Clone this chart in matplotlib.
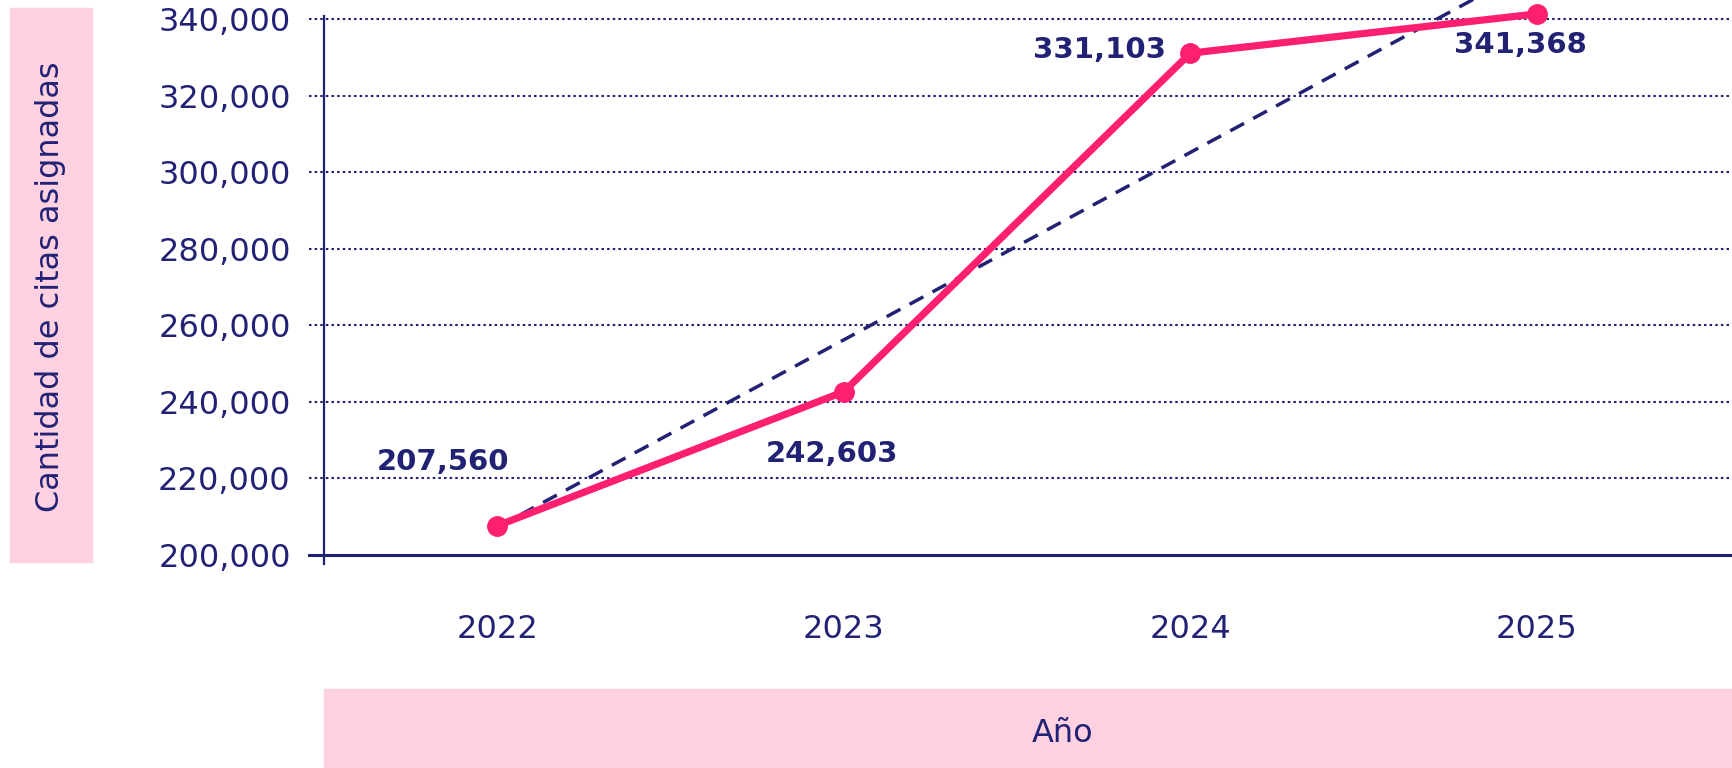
import numpy as np
import matplotlib
matplotlib.use('Agg')
import matplotlib.pyplot as plt
from matplotlib.patches import Rectangle

# Datos del gráfico
years = [2022, 2023, 2024, 2025]
citas = [207560, 242603, 331103, 341368]
y_ticks = [200000, 220000, 240000, 260000, 280000, 300000, 320000, 340000]

# Desplazamiento de cada etiqueta de valor (pixeles)
label_offsets = [(-54, 64), (-12, -62), (-91, 3), (-16, -31)]

navy = '#222275'
pink = '#FF1F70'
pink_bg = '#FFD1E1'

plt.rcParams['font.family'] = ['DejaVu Sans']

fig = plt.figure(figsize=(17.33, 7.68), dpi=100)
ax = fig.add_axes([324 / 1733, 1 - 554.7 / 768, 1409 / 1733, 554.7 / 768])

# Fondos rosados de los títulos de ejes
fig.patches.append(Rectangle((10 / 1733, 1 - 562 / 768), 82 / 1733, 554 / 768,
                             transform=fig.transFigure, color=pink_bg, zorder=0))
fig.patches.append(Rectangle((324 / 1733, 0), 1409 / 1733, 79 / 768,
                             transform=fig.transFigure, color=pink_bg, zorder=0))
fig.text(51 / 1733, 1 - 287 / 768, 'Cantidad de citas asignadas', rotation=90,
         ha='center', va='center', color=navy, fontsize=23)
fig.text(1063 / 1733, 1 - 734 / 768, 'Año', ha='center', va='center',
         color=navy, fontsize=23)

ax.set_xlim(2021.5, 2025.566)
ax.set_ylim(200000, 345000)

# Líneas de cuadrícula punteadas
for t in y_ticks[1:]:
    ax.axhline(t, xmin=-0.0106, xmax=1, color=navy, lw=1.5,
               linestyle=(0, (1.2, 1.5)), clip_on=False, zorder=1)
ax.axhline(200000, xmin=-0.0106, xmax=1, color=navy, lw=2.2,
           clip_on=False, zorder=3)
ax.axvline(2021.5, ymin=-0.017, ymax=0.972, color=navy, lw=1.6,
           clip_on=False, zorder=3)

# Línea de tendencia
coef = np.polyfit(years, citas, 1)
ax.plot(years, np.polyval(coef, years), color=navy, lw=2.5,
        linestyle=(0, (4.5, 3)), zorder=2)

# Serie principal
ax.plot(years, citas, color=pink, lw=5.2, marker='o', markersize=14,
        solid_capstyle='round', zorder=4)

for x, y, off in zip(years, citas, label_offsets):
    ax.annotate(f'{y:,}', (x, y), xytext=off, textcoords='offset pixels',
                ha='center', va='center', fontsize=21, fontweight='bold',
                color=navy, zorder=5)

for s in ax.spines.values():
    s.set_visible(False)

ax.set_yticks(y_ticks)
ax.set_yticklabels([f'{t:,}' for t in y_ticks])
ax.set_xticks(years)
ax.set_xticklabels([str(y) for y in years])
ax.tick_params(axis='y', length=0, pad=24, labelsize=23, labelcolor=navy)
ax.tick_params(axis='x', length=0, pad=43, labelsize=23, labelcolor=navy)

fig.savefig('out.png', dpi=100)
